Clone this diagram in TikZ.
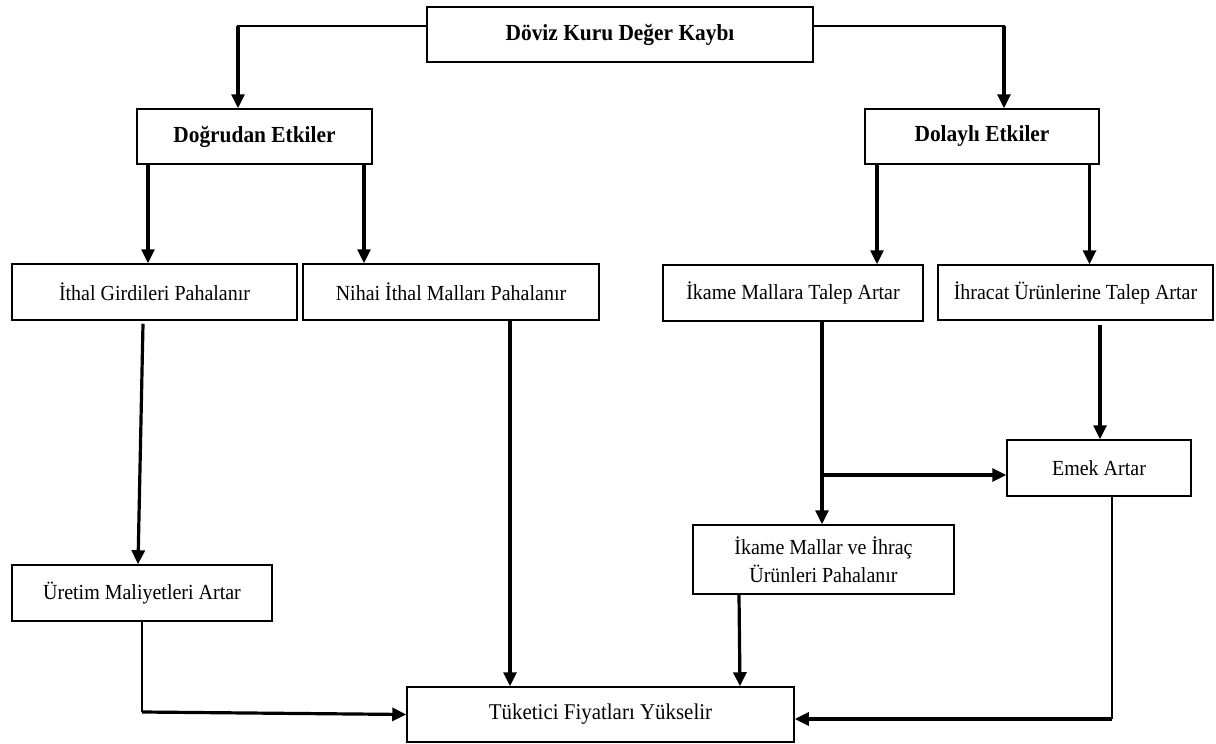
\documentclass[tikz,border=0pt]{standalone}
\usepackage{fontspec}
\setmainfont{Liberation Serif}[FakeStretch=0.93]
\usetikzlibrary{arrows.meta}
\begin{document}
\begin{tikzpicture}[x=1pt,y=-1pt,
  box/.style={draw, line width=1.5pt, inner sep=0pt, align=center, font=\fontsize{21.5}{28}\selectfont},
  bbox/.style={box, font=\fontsize{23}{27}\selectfont\bfseries},
  arr/.style={line width=3.2pt, -{Triangle[length=14pt,width=13pt]}},
  hl/.style={line width=2pt, line cap=rect},
  thinl/.style={line width=1.3pt},
]
\useasboundingbox (0,0) rectangle (1216,744);
% nodes
\node[bbox, minimum width=386pt, minimum height=55pt] (top) at (620,34.5) {Döviz Kuru Değer Kaybı};
\node[bbox, minimum width=235pt, minimum height=55pt] (dog) at (254.5,136.5) {Doğrudan Etkiler};
\node[bbox, minimum width=234pt, minimum height=55pt] (dol) at (982,136.5) {Dolaylı Etkiler};
\node[box, minimum width=285pt, minimum height=56pt] (ith) at (154.5,292) {İthal Girdileri Pahalanır};
\node[box, minimum width=296pt, minimum height=56pt] (nih) at (451,292) {Nihai İthal Malları Pahalanır};
\node[box, minimum width=260pt, minimum height=56pt] (ikm) at (793,293) {İkame Mallara Talep Artar};
\node[box, minimum width=275pt, minimum height=55pt] (ihr) at (1075.5,292.5) {İhracat Ürünlerine Talep Artar};
\node[box, minimum width=260pt, minimum height=56pt] (ure) at (142,593) {Üretim Maliyetleri Artar};
\node[box, minimum width=184pt, minimum height=56pt] (emk) at (1099,468) {Emek Artar};
\node[box, minimum width=261pt, minimum height=69pt] (ikv) at (823.5,559.5) {İkame Mallar ve İhraç\\Ürünleri Pahalanır};
\node[box, minimum width=387pt, minimum height=55pt, font=\fontsize{22.5}{27}\selectfont] (tuk) at (600.5,714.5) {Tüketici Fiyatları Yükselir};
% coordinates
\coordinate (c1) at (238,25.5);
\coordinate (c5) at (1004,25.5);
\coordinate (c2) at (822,475);
\coordinate (c3) at (142,712);
\coordinate (c4) at (1112,719);
% top connectors
\draw[hl] (top.west |- c1) -- (c1);
\draw[arr] (c1) -- (c1 |- dog.north);
\draw[hl] (top.east |- c5) -- (c5);
\draw[arr] (c5) -- (c5 |- dol.north);
% second level
\draw[arr] ([xshift=-106.5pt]dog.south) -- ([xshift=-106.5pt]dog.south |- ith.north);
\draw[arr] ([xshift=109.5pt]dog.south) -- ([xshift=109.5pt]dog.south |- nih.north);
\draw[arr] ([xshift=-105pt]dol.south) -- ([xshift=-105pt]dol.south |- ikm.north);
\draw[arr] ([xshift=107.5pt]dol.south) -- ([xshift=107.5pt]dol.south |- ihr.north);
% left column
\draw[arr] ([xshift=-11.5pt,yshift=-3pt]ith.south) -- ([xshift=-4pt]ure.north);
\draw[arr] ([xshift=59pt]nih.south) -- ([xshift=59pt]nih.south |- tuk.north);
\draw[thinl] (ure.south) -- (c3);
\draw[arr] (c3) -- (tuk.west);
% right column
\draw[arr] ([xshift=29pt]ikm.south) -- ([xshift=29pt]ikm.south |- ikv.north);
\draw[arr] (c2) -- (emk.west |- c2);
\draw[arr] ([xshift=24.5pt,yshift=-4pt]ihr.south) -- ([xshift=1pt]emk.north);
\draw[arr] ([xshift=-84.5pt]ikv.south) -- ([xshift=139.5pt]tuk.north);
\draw[thinl] ([xshift=13pt]emk.south) -- (c4);
\draw[arr] (c4) -- (tuk.east |- c4);
\end{tikzpicture}
\end{document}
